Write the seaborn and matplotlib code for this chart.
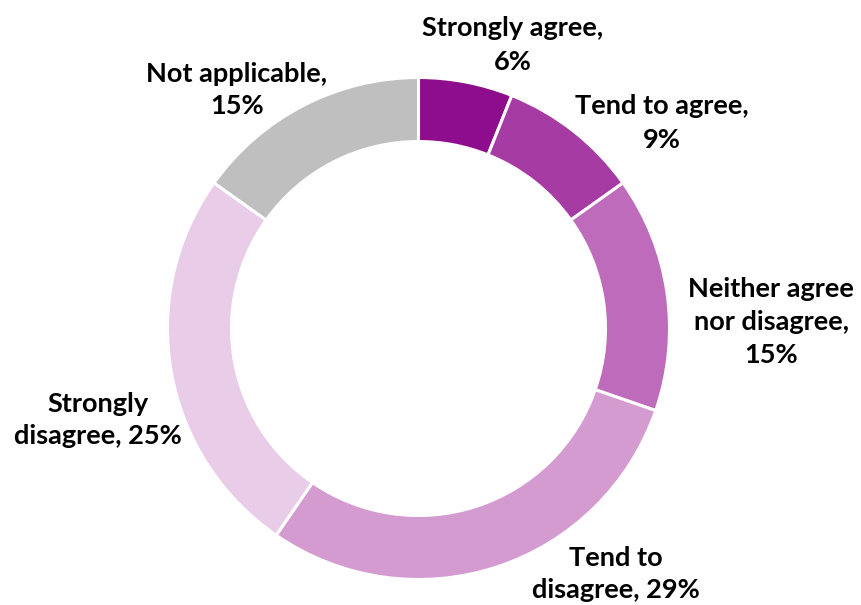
import matplotlib
matplotlib.use("Agg")
import matplotlib.pyplot as plt
import seaborn as sns

# Survey response shares (percent)
categories = ["Strongly agree", "Tend to agree", "Neither agree\nnor disagree",
              "Tend to\ndisagree", "Strongly\ndisagree", "Not applicable"]
values = [6, 9, 15, 29, 25, 15]
label_texts = ["Strongly agree,\n6%", "Tend to agree,\n9%", "Neither agree\nnor disagree,\n15%",
               "Tend to\ndisagree, 29%", "Strongly\ndisagree, 25%", "Not applicable,\n15%"]
colors = ["#8E0D8C", "#A63CA3", "#BE6BBB", "#D49BD1", "#E9CCE7", "#BFBFBF"]

sns.set_theme(style="white")
plt.rcParams["font.family"] = ["Lato", "DejaVu Sans"]

W, H = 861, 605
fig = plt.figure(figsize=(W / 100, H / 100), dpi=100)
ax = fig.add_axes([0, 0, 1, 1])

cx, cy, r = 418.5, H - 328.5, 251
wedges, _ = ax.pie(values, colors=colors, startangle=90, counterclock=False,
                   center=(cx, cy), radius=r, frame=True,
                   wedgeprops=dict(width=r * 0.255, edgecolor="white", linewidth=2.2))
ax.set_xlim(0, W)
ax.set_ylim(0, H)
ax.set_aspect("equal")
ax.axis("off")

# label anchor points (figure pixel layout, y measured from top)
label_pos = [(513, 45), (662, 123), (771, 322), (616, 574), (98, 420), (237, 90)]
for txt, (lx, ly) in zip(label_texts, label_pos):
    ax.text(lx, H - ly, txt, ha="center", va="center", fontsize=19.5,
            fontweight="bold", color="black", linespacing=1.45)

fig.savefig("out.png", dpi=100)
